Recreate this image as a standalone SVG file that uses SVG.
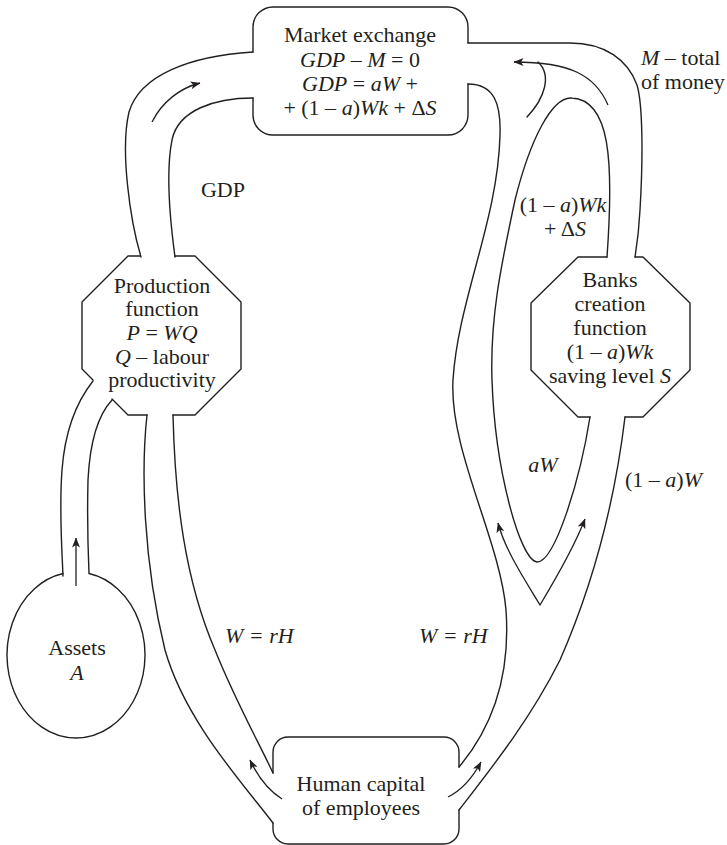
<svg xmlns="http://www.w3.org/2000/svg" width="727" height="845" viewBox="0 0 727 845">
  <defs>
    <marker id="ah" viewBox="0 0 10 8" refX="9.5" refY="4" markerWidth="10" markerHeight="8" markerUnits="userSpaceOnUse" orient="auto-start-reverse">
      <path d="M0,0 L10,4 L0,8 L2.5,4 Z" fill="#231f20"/>
    </marker>
    <style>
      .ln{fill:none;stroke:#231f20;stroke-width:1.4;stroke-linejoin:round;stroke-linecap:round}
      .arr{fill:none;stroke:#231f20;stroke-width:1.3;marker-end:url(#ah)}
      text{font-family:"Liberation Serif","Times New Roman",serif;font-size:22px;fill:#231f20}
      .c{text-anchor:middle}
      .i{font-style:italic}
    </style>
  </defs>
  <rect width="727" height="845" fill="#fff"/>

  <g id="market">
    <path class="ln" d="M253,52 L253,27 A20,20 0 0 1 273,7 L448,7 A20,20 0 0 1 468,27 L468,43 M468,84 L468,115 A20,20 0 0 1 448,135 L273,135 A20,20 0 0 1 253,115 L253,98"/>
    <text class="c" x="360" y="42">Market exchange</text>
    <text class="c" x="360" y="67"><tspan class="i">GDP</tspan> – <tspan class="i">M</tspan> = 0</text>
    <text class="c" x="360" y="91"><tspan class="i">GDP</tspan> = <tspan class="i">aW</tspan> +</text>
    <text class="c" x="360" y="115">+ (1 – <tspan class="i">a</tspan>)<tspan class="i">Wk</tspan> + Δ<tspan class="i">S</tspan></text>
  </g>

  <g id="production">
    <path class="ln" d="M140,256 L128,256 L82,302 L82,369 L93,380 M112,399 L128,415 L147,415 M173,415 L195,415 L241,369 L241,302 L195,256 L175,256"/>
    <text class="c" x="162" y="293">Production</text>
    <text class="c" x="162" y="316">function</text>
    <text class="c" x="162" y="340"><tspan class="i">P</tspan> = <tspan class="i">WQ</tspan></text>
    <text class="c" x="162" y="364"><tspan class="i">Q</tspan> – labour</text>
    <text class="c" x="162" y="387">productivity</text>
  </g>

  <g id="banks">
    <path class="ln" d="M607,257 L578,257 L531,303 L531,370 L578,417 L590,417 M625,417 L643,417 L690,370 L690,303 L643,257 L635,257"/>
    <text class="c" x="610" y="287">Banks</text>
    <text class="c" x="610" y="311">creation</text>
    <text class="c" x="610" y="335">function</text>
    <text class="c" x="610" y="359">(1 – <tspan class="i">a</tspan>)<tspan class="i">Wk</tspan></text>
    <text class="c" x="610" y="383">saving level <tspan class="i">S</tspan></text>
  </g>

  <g id="assets">
    <path class="ln" d="M89,573.5 A69,83 0 1 1 63,573.5"/>
    <text class="c" x="77" y="655">Assets</text>
    <text class="c i" x="77" y="680">A</text>
  </g>

  <g id="human">
    <path class="ln" d="M273,773 L273,752 A15,15 0 0 1 288,737 L444,737 A15,15 0 0 1 459,752 L459,767 M459,810 L459,829 A15,15 0 0 1 444,844 L288,844 A15,15 0 0 1 273,829 L273,823"/>
    <text class="c" x="361" y="791">Human capital</text>
    <text class="c" x="361" y="815">of employees</text>
  </g>

  <g id="connectors">
    <!-- GDP channel -->
    <path class="ln" d="M253,52 C190,56 140,75 129,112 C120,150 130,220 141,257"/>
    <path class="ln" d="M253,98 C215,98 178,110 172,140 C166,170 170,220 175,257"/>
    <path class="arr" d="M152,122 C162,102 180,88 200,83"/>
    <!-- Assets channel -->
    <path class="ln" d="M93,381 C78,400 65,430 62,470 C59,510 62,550 63,576"/>
    <path class="ln" d="M112,400 C98,415 90,440 88,480 C87,520 88,550 89,573"/>
    <path class="arr" d="M76,586 L76,538"/>
    <!-- left W = rH channel -->
    <path class="ln" d="M147,415 C141,470 143,560 165,650 C185,720 240,780 273,823"/>
    <path class="ln" d="M173,415 C175,500 185,580 215,650 C235,700 260,745 273,773"/>
    <path class="arr" d="M282,799 C268,790 257,775 250,760"/>
    <!-- right W = rH channel -->
    <path class="ln" d="M468,84 C495,84 501,105 500,135 C498,220 458,300 453,380 C449,450 500,540 506,610 C511,680 490,730 459,767"/>
    <path class="ln" d="M625,417 C615,500 595,580 560,660 C530,720 490,770 459,810"/>
    <path class="arr" d="M448,797 C462,790 473,777 481,762"/>
    <!-- loop: aW up to market, (1-a)Wk + dS from banks -->
    <path class="ln" d="M607,257 C614,160 610,100 572,98 C552,96 530,140 515,200 C500,270 490,320 492,380 C495,470 520,560 537,562 C555,562 580,480 590,417"/>
    <path class="ln" d="M468,43 L570,43 C605,43 628,60 637,85 C643,105 643,160 640,210 C639,230 637,245 635,257"/>
    <path class="arr" d="M608,105 C595,75 570,62 514,62"/>
    <path class="ln" d="M527,117 C545,98 552,75 538,62"/>
    <path class="arr" style="marker-start:url(#ah)" d="M498,523 C505,550 525,580 540,605 C555,580 575,545 585,519"/>
  </g>

  <g id="labels">
    <text x="641" y="65"><tspan class="i">M</tspan> – total</text>
    <text x="641" y="89">of money</text>
    <text class="c" x="223" y="197">GDP</text>
    <text class="c" x="563" y="212">(1 – <tspan class="i">a</tspan>)<tspan class="i">Wk</tspan></text>
    <text class="c" x="565" y="236">+ Δ<tspan class="i">S</tspan></text>
    <text class="c i" x="543" y="472">aW</text>
    <text x="625" y="487">(1 – <tspan class="i">a</tspan>)<tspan class="i">W</tspan></text>
    <text class="i" x="225" y="643">W = rH</text>
    <text class="i" x="419" y="643">W = rH</text>
  </g>
</svg>
